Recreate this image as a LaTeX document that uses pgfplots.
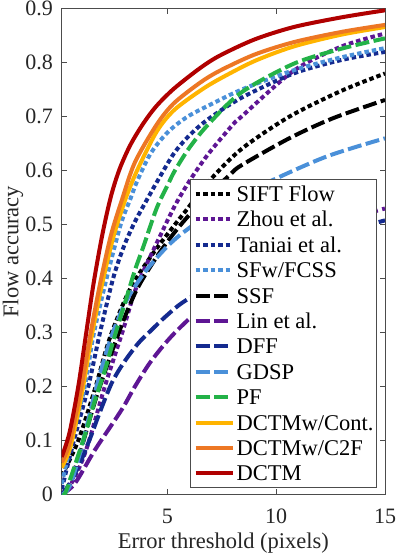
\documentclass[border=0pt]{standalone}
\usepackage{fontspec}
\setmainfont{Liberation Serif}
\usepackage{pgfplots}
\pgfplotsset{compat=1.18}
\definecolor{cZhou}{RGB}{94,22,148}
\definecolor{cTan}{RGB}{20,42,143}
\definecolor{cSF}{RGB}{74,144,217}
\definecolor{cPF}{RGB}{35,178,72}
\definecolor{cCont}{RGB}{255,180,0}
\definecolor{cC2F}{RGB}{237,119,36}
\definecolor{cDCTM}{RGB}{176,0,0}
\tikzset{
  dotsty/.style={line width=4pt, dash pattern=on 4.5pt off 3pt},
  dashsty/.style={line width=4pt, dash pattern=on 14pt off 4.5pt},
  solsty/.style={line width=4pt}
}
\newcommand{\bigfont}{\fontsize{22.5}{26}\selectfont}
\newcommand{\tickfont}{\fontsize{22}{24}\selectfont}
\begin{document}
\begin{tikzpicture}
\useasboundingbox (-61.7pt,-62.3pt) rectangle (337.3pt,494.7pt);
\begin{axis}[
  at={(0pt,0pt)}, anchor=south west,
  scale only axis, width=323.3pt, height=486pt,
  xmin=0.14, xmax=15, ymin=0, ymax=0.9,
  xtick={5,10,15},
  ytick={0,0.1,0.2,0.3,0.4,0.5,0.6,0.7,0.8,0.9},
  /pgf/number format/assume math mode=true,
  tick label style={font=\tickfont, text=black!85},
  label style={font=\bigfont, text=black!85},
  xticklabel style={anchor=base, inner sep=0pt, yshift=-28.3pt},
  yticklabel style={anchor=east, inner sep=0pt, xshift=-8.7pt},
  axis line style={black!70, line width=0.8pt},
  every tick/.style={black!70, line width=0.8pt},
  major tick length=5.5pt,
  xlabel={Error threshold (pixels)},
  ylabel={Flow accuracy},
  xlabel style={at={(axis description cs:0.5,-0.1097)}, anchor=base, inner sep=0pt},
  ylabel style={at={(axis description cs:-0.1506,0.5)}, anchor=center, inner sep=0pt},
  legend cell align=left,
  legend image code/.code={\draw[#1] (0pt,0pt) -- (37pt,0pt);},
  legend style={at={(axis description cs:1,0)}, anchor=south east,
    xshift=-8pt, yshift=6.7pt, draw=black!70, line width=0.8pt, fill=white,
    inner xsep=3pt, inner ysep=1.5pt, row sep=0pt,
    font=\bigfont,
    nodes={inner sep=0pt, text height=20.15pt, text depth=5.25pt},
    /tikz/every odd column/.style={column sep=2pt}},
]
% SIFT Flow
\addplot[black, dotsty, smooth] coordinates {(0.14,0.035)(0.9,0.1)(1.7,0.2)(2.35,0.29)(3.27,0.38)(4.34,0.447)(5.34,0.5)(5.87,0.527)(6.9,0.58)(8.4,0.64)(10.6,0.70)(13,0.748)(15,0.78)};
\addlegendentry{SIFT Flow}
% Zhou
\addplot[cZhou, dotsty, smooth] coordinates {(0.14,0)(0.5,0.015)(1.0,0.055)(1.4,0.1)(2.12,0.2)(2.96,0.305)(3.58,0.385)(4.65,0.478)(5.34,0.535)(6.0,0.58)(6.86,0.63)(8.0,0.685)(8.4,0.70)(10.8,0.785)(13,0.83)(15,0.854)};
\addlegendentry{Zhou et al.}
% Taniai
\addplot[cTan, dotsty, smooth] coordinates {(0.14,0.01)(0.7,0.1)(1.36,0.2)(1.9,0.3)(2.5,0.4)(3.0,0.46)(3.5,0.505)(4.04,0.545)(4.6,0.585)(5.3,0.632)(6.0,0.665)(6.86,0.695)(8.4,0.735)(10.8,0.78)(13,0.805)(15,0.82)};
\addlegendentry{Taniai et al.}
% SFw/FCSS
\addplot[cSF, dotsty, smooth] coordinates {(0.14,0.02)(0.6,0.1)(1.2,0.2)(1.6,0.295)(2.2,0.4)(2.85,0.5)(3.3,0.548)(3.6,0.58)(4.2,0.63)(4.8,0.662)(5.34,0.683)(6.0,0.702)(6.86,0.72)(8.4,0.75)(10.8,0.786)(13,0.81)(15,0.827)};
\addlegendentry{SFw/FCSS}
% SSF
\addplot[black, dashsty, smooth] coordinates {(0.14,0)(0.5,0.02)(1.0,0.08)(1.5,0.15)(1.89,0.2)(2.81,0.305)(3.58,0.379)(4.5,0.44)(5.41,0.49)(6.5,0.54)(7.86,0.592)(8.4,0.61)(10.6,0.66)(12.6,0.697)(15,0.731)};
\addlegendentry{SSF}
% Lin
\addplot[cZhou, dashsty, smooth] coordinates {(0.14,0)(0.75,0.021)(1.67,0.083)(2.89,0.157)(3.5,0.2)(4.19,0.244)(5.0,0.285)(5.85,0.32)(8,0.40)(10,0.455)(12.5,0.5)(15,0.53)};
\addlegendentry{Lin et al.}
% DFF
\addplot[cTan, dashsty, smooth] coordinates {(0.14,0)(0.5,0.02)(1.0,0.06)(1.5,0.11)(1.82,0.145)(2.43,0.206)(3.0,0.245)(3.65,0.28)(4.19,0.302)(5.0,0.333)(5.85,0.36)(8,0.41)(10,0.445)(12.5,0.48)(15,0.508)};
\addlegendentry{DFF}
% GDSP
\addplot[cSF, dashsty, smooth] coordinates {(0.14,0)(0.5,0.015)(1.0,0.08)(1.74,0.2)(2.4,0.29)(3.12,0.36)(4.04,0.416)(5.0,0.46)(5.87,0.49)(7.5,0.535)(9.54,0.577)(12.3,0.626)(15,0.66)};
\addlegendentry{GDSP}
% PF
\addplot[cPF, dashsty, smooth] coordinates {(0.14,0)(0.3,0.003)(0.75,0.055)(1.28,0.12)(1.67,0.175)(2.12,0.23)(2.55,0.29)(3.04,0.354)(3.5,0.415)(3.9,0.46)(4.5,0.53)(5.03,0.575)(5.34,0.6)(6.0,0.642)(6.86,0.685)(8.4,0.745)(10.8,0.798)(13,0.826)(15,0.845)};
\addlegendentry{PF}
% DCTMw/Cont.
\addplot[cCont, solsty, smooth] coordinates {(0.14,0.05)(0.55,0.09)(1.1,0.195)(1.5,0.29)(1.97,0.385)(2.5,0.475)(3.05,0.545)(3.6,0.6)(4.5,0.672)(5.3,0.712)(6.5,0.748)(7.4,0.77)(9,0.803)(10.8,0.83)(13,0.852)(15,0.866)};
\addlegendentry{DCTMw/Cont.}
% DCTMw/C2F
\addplot[cC2F, solsty, smooth] coordinates {(0.14,0.06)(0.5,0.095)(1.05,0.2)(1.45,0.295)(1.9,0.39)(2.4,0.48)(2.9,0.545)(3.5,0.615)(4.5,0.685)(5.3,0.725)(6.5,0.763)(7.4,0.785)(9,0.815)(10.8,0.838)(13,0.857)(15,0.87)};
\addlegendentry{DCTMw/C2F}
% DCTM
\addplot[cDCTM, solsty, smooth] coordinates {(0.14,0.07)(0.5,0.115)(0.9,0.2)(1.25,0.295)(1.6,0.39)(2.0,0.48)(2.4,0.552)(2.8,0.603)(3.3,0.648)(3.9,0.688)(4.5,0.72)(5.3,0.752)(6.5,0.79)(7.4,0.813)(9,0.843)(10.8,0.866)(13,0.884)(15,0.897)};
\addlegendentry{DCTM}
\end{axis}
\end{tikzpicture}
\end{document}
